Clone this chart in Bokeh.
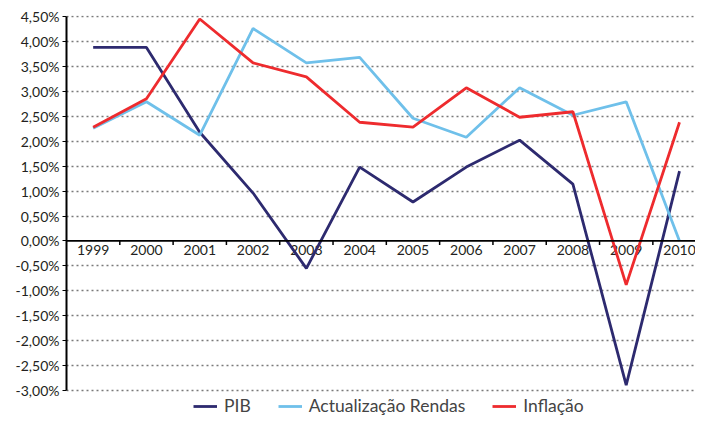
from bokeh.plotting import figure
from bokeh.models import (Range1d, FixedTicker, Span, Legend, LegendItem)
from bokeh.core.properties import value
from bokeh.embed import file_html
from bokeh.resources import INLINE

years = ["1999", "2000", "2001", "2002", "2003", "2004", "2005", "2006", "2007", "2008", "2009", "2010"]
pib = [3.88, 3.88, 2.18, 0.96, -0.55, 1.48, 0.78, 1.48, 2.02, 1.14, -2.89, 1.40]
rendas = [2.26, 2.79, 2.12, 4.26, 3.57, 3.68, 2.46, 2.08, 3.07, 2.52, 2.79, 0.0]
inflacao = [2.28, 2.85, 4.45, 3.57, 3.29, 2.38, 2.28, 3.07, 2.48, 2.59, -0.88, 2.38]
y_ticks = [-3.0, -2.5, -2.0, -1.5, -1.0, -0.5, 0.0, 0.5, 1.0, 1.5, 2.0, 2.5, 3.0, 3.5, 4.0, 4.5]
y_labels = ["-3,00%", "-2,50%", "-2,00%", "-1,50%", "-1,00%", "-0,50%", "0,00%", "0,50%",
            "1,00%", "1,50%", "2,00%", "2,50%", "3,00%", "3,50%", "4,00%", "4,50%"]

FONT = "Lato"
xs = list(range(len(years)))

p = figure(width=695, height=416, output_backend="svg", toolbar_location=None,
           x_range=Range1d(-0.5, 11.3), y_range=Range1d(-3.52, 4.52))
p.min_border_left = 66
p.min_border_right = 0
p.min_border_top = 15
p.min_border_bottom = 0
p.outline_line_color = None

# y axis
p.yaxis.ticker = FixedTicker(ticks=y_ticks)
p.yaxis.bounds = (-3.0, 4.5)
p.yaxis.major_label_overrides = {str(t): l for t, l in zip(y_ticks, y_labels)}
p.yaxis.major_label_overrides.update({t: l for t, l in zip(y_ticks, y_labels)})
p.yaxis.axis_line_color = "black"
p.yaxis.axis_line_width = 2
p.yaxis.major_tick_out = 4
p.yaxis.major_tick_in = 0
p.yaxis.major_tick_line_color = "black"
p.yaxis.minor_tick_line_color = None
p.yaxis.major_label_text_font = FONT
p.yaxis.major_label_text_font_size = "14px"
p.yaxis.major_label_text_color = "#231f20"
p.yaxis.major_label_standoff = 3
p.xaxis.visible = False
p.xgrid.visible = False
p.ygrid.ticker = FixedTicker(ticks=[t for t in y_ticks if t != 0])
p.ygrid.grid_line_color = "#7a7a7a"
p.ygrid.grid_line_width = 1.6
p.ygrid.grid_line_dash = "2 3"

# zero line acting as category axis
p.add_layout(Span(location=0, dimension="width", line_color="black", line_width=1.8))
bounds = [i + 0.5 for i in xs]
p.segment(x0=bounds, x1=bounds, y0=[0] * len(bounds), y1=[-0.08] * len(bounds),
          line_color="black", line_width=1.5)
p.text(x=xs, y=[0] * len(xs), text=years, text_font=value(FONT), text_font_size="14px",
       text_color="#231f20", text_align="center", text_baseline="top", y_offset=4)

r1 = p.line(xs, pib, line_color="#2d2a6f", line_width=2.8)
r2 = p.line(xs, rendas, line_color="#6fc0ea", line_width=2.8)
r3 = p.line(xs, inflacao, line_color="#ee2b2e", line_width=2.8)

legend = Legend(items=[LegendItem(label="PIB", renderers=[r1]),
                       LegendItem(label="Actualização Rendas", renderers=[r2]),
                       LegendItem(label="Inflação", renderers=[r3])],
                orientation="horizontal", location=(127, 0),
                label_text_font=FONT, label_text_font_size="17.5px", label_text_color="#444444",
                glyph_width=24, glyph_height=18, label_height=18, label_standoff=7, spacing=27,
                padding=0, margin=0, border_line_color=None, background_fill_alpha=0)
p.add_layout(legend)

open("out.html", "w").write(file_html(p, INLINE))
